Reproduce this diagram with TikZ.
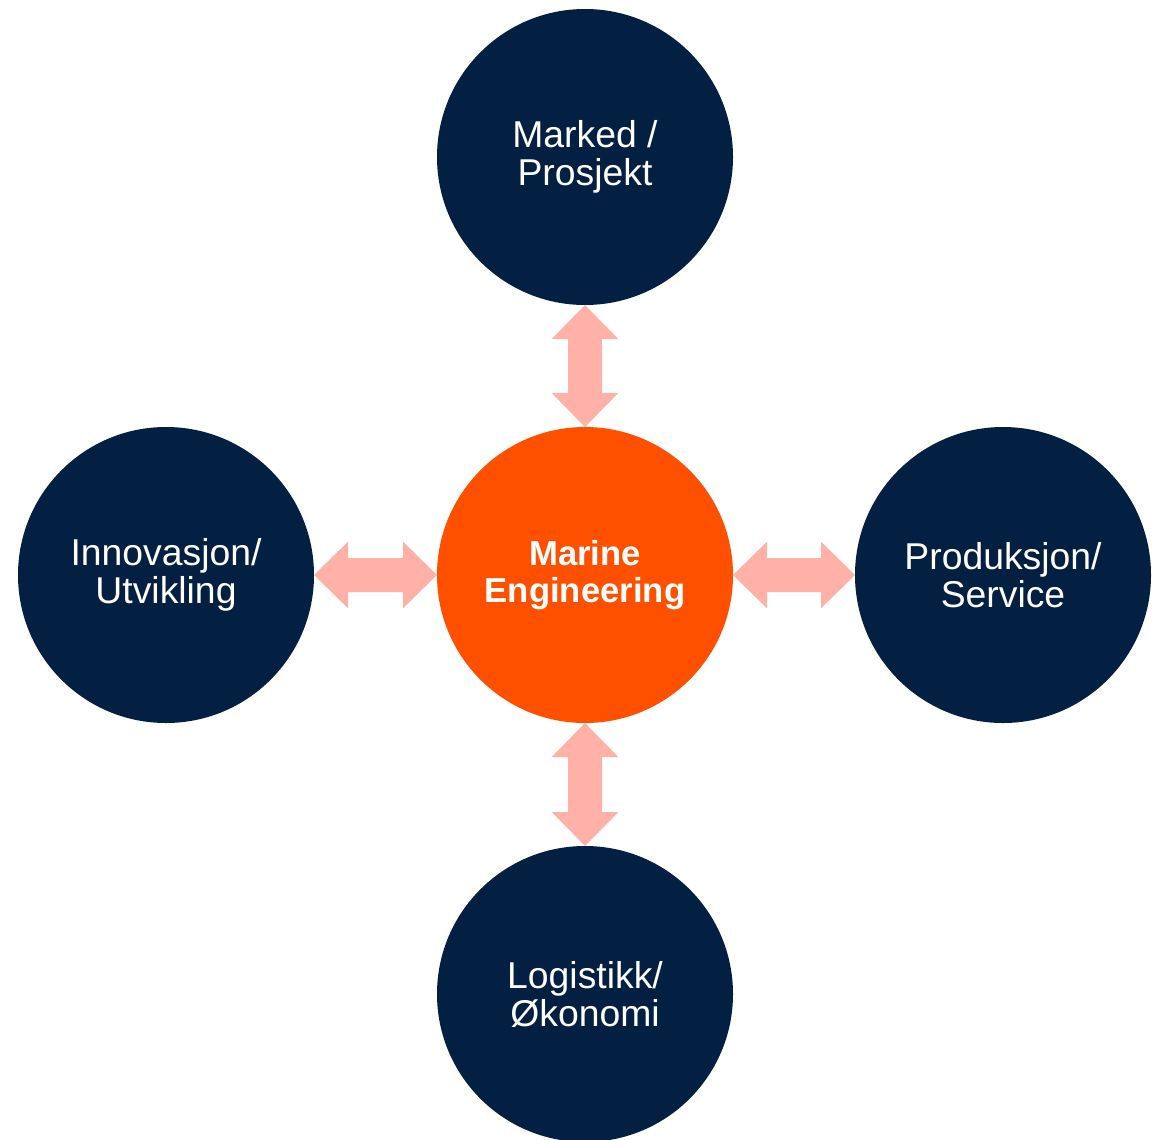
\documentclass[tikz,border=0pt]{standalone}
\usepackage{fontspec}
\setmainfont{Liberation Sans}
\usetikzlibrary{calc}
\definecolor{navy}{RGB}{3,31,66}
\definecolor{mborange}{RGB}{255,80,0}
\definecolor{arrowpink}{RGB}{255,177,168}

\begin{document}
\begin{tikzpicture}[
    x=0.75pt, y=-0.75pt,
    font=\fontsize{28}{28.5}\selectfont,
    hub/.style={circle, minimum size=222pt, inner sep=0pt, outer sep=0pt,
        align=center, text=white},
    dblarrow/.style={fill=arrowpink, draw=none,
        to path={
            -- ($(\tikztostart)!\headlen!(\tikztotarget)!\headw!90:(\tikztotarget)$)
            -- ($(\tikztostart)!\headlen!(\tikztotarget)!\shaftw!90:(\tikztotarget)$)
            -- ($(\tikztotarget)!\headlen!(\tikztostart)!\shaftw!-90:(\tikztostart)$)
            -- ($(\tikztotarget)!\headlen!(\tikztostart)!\headw!-90:(\tikztostart)$)
            -- (\tikztotarget)
            -- ($(\tikztotarget)!\headlen!(\tikztostart)!\headw!90:(\tikztostart)$)
            -- ($(\tikztotarget)!\headlen!(\tikztostart)!\shaftw!90:(\tikztostart)$)
            -- ($(\tikztostart)!\headlen!(\tikztotarget)!\shaftw!-90:(\tikztotarget)$)
            -- ($(\tikztostart)!\headlen!(\tikztotarget)!\headw!-90:(\tikztotarget)$)
            -- cycle}},
]

\def\headlen{25.5pt}
\def\headw{25pt}
\def\shaftw{12.75pt}

\useasboundingbox (0,0) rectangle (1162,1139);

% ===== Centre =====
\node[hub, fill=mborange, font=\fontsize{26}{27.5}\selectfont\bfseries]
    (mid) at (585,575) {Marine\\Engineering};

% ===== Outer circles =====
\foreach \name/\x/\y/\txt in {top/585/157/{Marked /\\Prosjekt},
        left/166/575/{Innovasjon/\\Utvikling},
        right/1003/575/{Produksjon/\\Service},
        bottom/585/994/{Logistikk/\\Økonomi}} {
    \node[hub, fill=navy] (\name) at (\x,\y) {\txt};
}

% ===== Arrows =====
\path[dblarrow] (top.south) to (mid.north);
\path[dblarrow] (left.east) to (mid.west);
\path[dblarrow] (mid.east) to (right.west);
\path[dblarrow] (mid.south) to (bottom.north);

\end{tikzpicture}
\end{document}
